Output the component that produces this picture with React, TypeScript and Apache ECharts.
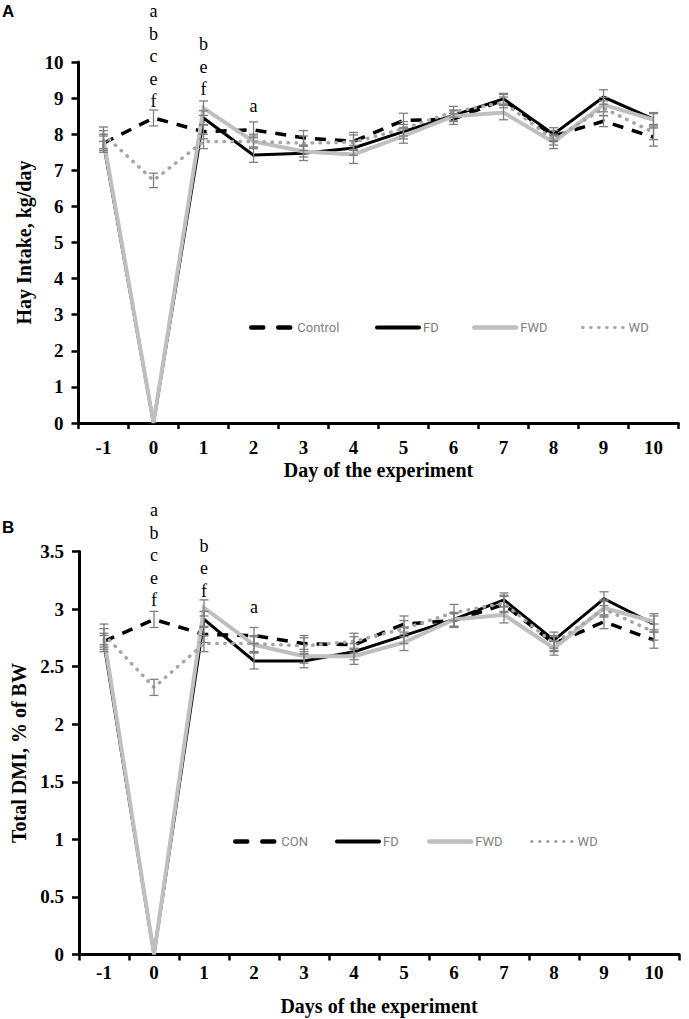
import React, { useEffect, useRef } from 'react';
import * as echarts from 'echarts';

// ---------- data ----------
const days = ['-1', '0', '1', '2', '3', '4', '5', '6', '7', '8', '9', '10'];

// Panel A: Hay intake, kg/day
const hayControl = [7.75, 8.45, 8.07, 8.12, 7.9, 7.8, 8.38, 8.42, 8.95, 7.95, 8.36, 7.92];
const hayFD = [7.75, 0, 8.45, 7.42, 7.47, 7.62, 8.07, 8.52, 8.98, 8.0, 9.03, 8.42];
const hayFWD = [7.85, 0, 8.72, 7.8, 7.52, 7.44, 7.95, 8.5, 8.6, 7.78, 8.82, 8.4];
const hayWD = [8.0, 6.72, 7.8, 7.8, 7.75, 7.78, 8.15, 8.62, 8.88, 7.85, 8.72, 8.05];
const hayControlSE = [0.25, 0.22, 0.2, 0.22, 0.2, 0.25, 0.2, 0.15, 0.15, 0.15, 0.15, 0.25];
const hayFDSE = [0.2, 0, 0.2, 0.2, 0.2, 0.2, 0.2, 0.15, 0.15, 0.18, 0.2, 0.15];
const hayFWDSE = [0.25, 0, 0.2, 0.15, 0.15, 0.25, 0.2, 0.15, 0.2, 0.18, 0.2, 0.2];
const hayWDSE = [0.2, 0.2, 0.2, 0.2, 0.2, 0.2, 0.2, 0.15, 0.15, 0.15, 0.2, 0.2];

// Panel B: Total DMI, % of BW
const dmiCON = [2.72, 2.91, 2.78, 2.77, 2.7, 2.69, 2.87, 2.9, 3.04, 2.7, 2.89, 2.73];
const dmiFD = [2.7, 0, 2.91, 2.55, 2.55, 2.63, 2.77, 2.91, 3.08, 2.73, 3.09, 2.87];
const dmiFWD = [2.75, 0, 3.01, 2.69, 2.59, 2.59, 2.71, 2.91, 2.95, 2.66, 3.01, 2.89];
const dmiWD = [2.78, 2.32, 2.7, 2.7, 2.68, 2.72, 2.83, 2.97, 3.05, 2.7, 3.0, 2.8];
const dmiCONSE = [0.07, 0.07, 0.07, 0.07, 0.07, 0.07, 0.07, 0.06, 0.07, 0.06, 0.06, 0.07];
const dmiFDSE = [0.07, 0, 0.07, 0.07, 0.06, 0.07, 0.07, 0.06, 0.06, 0.07, 0.06, 0.07];
const dmiFWDSE = [0.08, 0, 0.07, 0.07, 0.06, 0.07, 0.07, 0.06, 0.07, 0.06, 0.07, 0.07];
const dmiWDSE = [0.09, 0.07, 0.07, 0.07, 0.07, 0.07, 0.07, 0.07, 0.07, 0.07, 0.07, 0.07];

// significance letters (day index, anchor value of text bottom, text)
const hayLetterDay = [1, 2, 3];
const hayLetterAnchor = [8.6, 8.93, 8.48];
const hayLetterText = ['a\nb\nc\ne\nf', 'b\ne\nf', 'a'];
const dmiLetterDay = [1, 2, 3];
const dmiLetterAnchor = [2.98, 3.06, 2.92];
const dmiLetterText = ['a\nb\nc\ne\nf', 'b\ne\nf', 'a'];

const namesA = ['Control', 'FD', 'FWD', 'WD'];
const namesB = ['CON', 'FD', 'FWD', 'WD'];

// ---------- styles ----------
const SERIF = '"Liberation Serif", "Times New Roman", serif';
const styles = [
  { color: '#000000', width: 3.5, type: [11, 9], cap: 'butt' },
  { color: '#000000', width: 3, type: 'solid', cap: 'butt' },
  { color: '#bfbfbf', width: 4, type: 'solid', cap: 'butt' },
  { color: '#a6a6a6', width: 3.5, type: [0.5, 7.5], cap: 'round' },
];
const legendLine = [
  { color: '#000000', width: 4.5, type: [12, 15], cap: 'round' },
  { color: '#000000', width: 4, type: 'solid', cap: 'round' },
  { color: '#bfbfbf', width: 4.5, type: 'solid', cap: 'round' },
  { color: '#a6a6a6', width: 3.2, type: [0.5, 7.5], cap: 'round' },
];

function lineSeries(name: string, data: number[], idx: number, gi: number) {
  const s = styles[idx];
  return {
    type: 'line',
    name,
    xAxisIndex: gi,
    yAxisIndex: gi,
    data,
    symbol: 'none',
    showSymbol: false,
    z: 2 + idx,
    lineStyle: { color: s.color, width: s.width, type: s.type, cap: s.cap, join: 'miter' },
    itemStyle: { color: s.color },
  };
}

function errorSeries(vals: number[], se: number[], gi: number) {
  const data: number[][] = [];
  vals.forEach((v, i) => {
    if (se[i] > 0) data.push([i, v - se[i], v + se[i]]);
  });
  return {
    type: 'custom',
    xAxisIndex: gi,
    yAxisIndex: gi,
    z: 10,
    silent: true,
    data,
    renderItem: (params: any, api: any) => {
      const lo = api.coord([api.value(0), api.value(1)]);
      const hi = api.coord([api.value(0), api.value(2)]);
      const x = lo[0];
      const st = { stroke: '#7f7f7f', lineWidth: 1.3 };
      return {
        type: 'group',
        children: [
          { type: 'line', shape: { x1: x, y1: lo[1], x2: x, y2: hi[1] }, style: st },
          { type: 'line', shape: { x1: x - 4.5, y1: lo[1], x2: x + 4.5, y2: lo[1] }, style: st },
          { type: 'line', shape: { x1: x - 4.5, y1: hi[1], x2: x + 4.5, y2: hi[1] }, style: st },
        ],
      };
    },
  };
}

function letterSeries(dayIdx: number[], anchor: number[], texts: string[], gi: number) {
  return {
    type: 'custom',
    xAxisIndex: gi,
    yAxisIndex: gi,
    z: 12,
    silent: true,
    clip: false,
    data: dayIdx.map((d, i) => [d, anchor[i]]),
    renderItem: (params: any, api: any) => {
      const p = api.coord([api.value(0), api.value(1)]);
      return {
        type: 'text',
        x: p[0],
        y: p[1],
        style: {
          text: texts[params.dataIndex],
          align: 'center',
          verticalAlign: 'bottom',
          fontFamily: SERIF,
          fontSize: 18,
          lineHeight: 22.5,
          fill: '#000',
        },
      };
    },
  };
}

function makeXAxis(gi: number, name: string, labelMargin: number, nameGap: number) {
  return {
    type: 'category',
    gridIndex: gi,
    data: days,
    boundaryGap: true,
    name,
    nameLocation: 'middle',
    nameGap,
    nameTextStyle: { fontFamily: SERIF, fontWeight: 'bold', fontSize: 20, color: '#000' },
    axisLine: { show: true, onZero: false, lineStyle: { color: '#000', width: 3 } },
    axisTick: { show: true, inside: false, length: 6, lineStyle: { color: '#000', width: 2.5 } },
    axisLabel: { margin: labelMargin, fontFamily: SERIF, fontWeight: 'bold', fontSize: 19, color: '#000' },
    splitLine: { show: false },
  };
}

function makeYAxis(gi: number, name: string, max: number, interval: number, nameGap: number) {
  return {
    type: 'value',
    gridIndex: gi,
    min: 0,
    max,
    interval,
    name,
    nameLocation: 'middle',
    nameRotate: 90,
    nameGap,
    nameTextStyle: { fontFamily: SERIF, fontWeight: 'bold', fontSize: 20, color: '#000' },
    axisLine: { show: true, lineStyle: { color: '#000', width: 3 } },
    axisTick: { show: true, inside: false, length: 7, lineStyle: { color: '#000', width: 2.5 } },
    axisLabel: { margin: 15, fontFamily: SERIF, fontWeight: 'bold', fontSize: 19, color: '#000' },
    splitLine: { show: false },
  };
}

function legendItem(name: string, idx: number, left: number, top: number) {
  const l = legendLine[idx];
  return {
    data: [name],
    left,
    top,
    orient: 'horizontal',
    padding: 0,
    itemWidth: 42,
    itemHeight: 12,
    itemGap: 4,
    selectedMode: false,
    itemStyle: { opacity: 0 },
    lineStyle: { color: l.color, width: l.width, type: l.type, cap: l.cap },
    textStyle: { fontFamily: 'Roboto, "Open Sans", sans-serif', fontSize: 13, color: '#808080', padding: [0, 0, 0, -1] },
  };
}

export default function App() {
  const ref = useRef<HTMLDivElement>(null);
  useEffect(() => {
    document.body.style.margin = '0';
    if (!ref.current) return;
    const chart = echarts.init(ref.current, null, { renderer: 'svg' });
    const hayVals = [hayControl, hayFD, hayFWD, hayWD];
    const haySE = [hayControlSE, hayFDSE, hayFWDSE, hayWDSE];
    const dmiVals = [dmiCON, dmiFD, dmiFWD, dmiWD];
    const dmiSE = [dmiCONSE, dmiFDSE, dmiFWDSE, dmiWDSE];

    const series: any[] = [];
    hayVals.forEach((v, i) => series.push(lineSeries(namesA[i], v, i, 0)));
    dmiVals.forEach((v, i) => series.push(lineSeries(namesB[i], v, i, 1)));
    hayVals.forEach((v, i) => series.push(errorSeries(v, haySE[i], 0)));
    dmiVals.forEach((v, i) => series.push(errorSeries(v, dmiSE[i], 1)));
    series.push(letterSeries(hayLetterDay, hayLetterAnchor, hayLetterText, 0));
    series.push(letterSeries(dmiLetterDay, dmiLetterAnchor, dmiLetterText, 1));

    chart.setOption({
      animation: false,
      backgroundColor: '#ffffff',
      grid: [
        { left: 78.5, top: 62, width: 600, height: 361, containLabel: false },
        { left: 79, top: 551.5, width: 600, height: 403, containLabel: false },
      ],
      xAxis: [
        makeXAxis(0, 'Day of the experiment', 15, 37),
        makeXAxis(1, 'Days of the experiment', 8, 41),
      ],
      yAxis: [
        makeYAxis(0, 'Hay Intake, kg/day', 10, 1, 41),
        makeYAxis(1, 'Total DMI, % of BW', 3.5, 0.5, 45),
      ],
      legend: [
        legendItem('Control', 0, 249, 321),
        legendItem('FD', 1, 375, 321),
        legendItem('FWD', 2, 472, 321),
        legendItem('WD', 3, 581, 321),
        legendItem('CON', 0, 233, 835),
        legendItem('FD', 1, 335, 835),
        legendItem('FWD', 2, 427, 835),
        legendItem('WD', 3, 530, 835),
      ],
      graphic: [
        { type: 'text', left: 2, top: 3, style: { text: 'A', fontFamily: '"Liberation Sans", Arial, sans-serif', fontWeight: 'bold', fontSize: 17, fill: '#000' } },
        { type: 'text', left: 2, top: 519, style: { text: 'B', fontFamily: '"Liberation Sans", Arial, sans-serif', fontWeight: 'bold', fontSize: 17, fill: '#000' } },
      ],
      series,
    });
    return () => chart.dispose();
  }, []);
  return <div ref={ref} style={{ width: 689, height: 1019 }} />;
}
